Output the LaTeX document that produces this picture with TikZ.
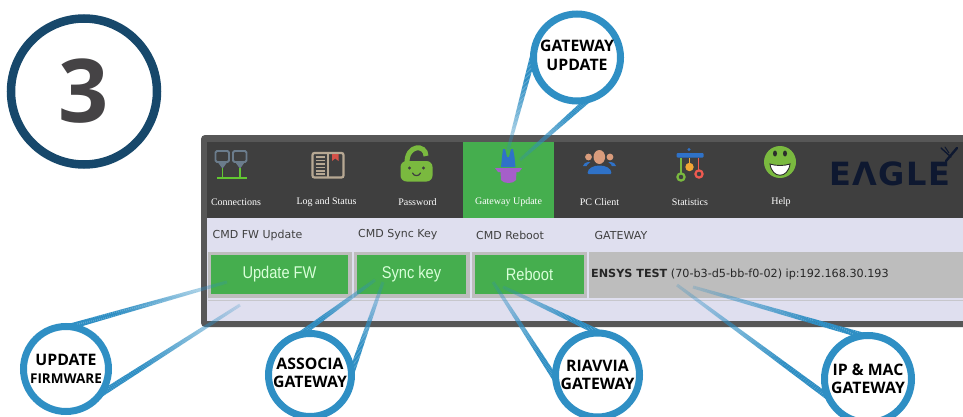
\documentclass[tikz,border=0pt]{standalone}
\usepackage{fontspec}
\setmainfont{Open Sans}
\newfontfamily\uifont{DejaVu Sans}
\newfontfamily\btnfont[FakeStretch=0.86]{Liberation Sans}
\newfontfamily\menufont{Liberation Serif}
\newfontfamily\logofont[LetterSpace=4.5]{DejaVu Sans}
\usetikzlibrary{calc}
\pgfdeclarelayer{panel}
\pgfdeclarelayer{links}
\pgfsetlayers{panel,links,main}
\definecolor{linkblue}{HTML}{2F8FC4}
\definecolor{navyring}{HTML}{17486B}
\definecolor{numgray}{HTML}{454345}
\definecolor{frame}{HTML}{575757}
\definecolor{header}{HTML}{3F3F3F}
\definecolor{tabgreen}{HTML}{45AE4E}
\definecolor{band}{HTML}{DFDFEF}
\definecolor{cellgray}{HTML}{BDBDBD}
\definecolor{uitext}{HTML}{404040}
\definecolor{limeg}{HTML}{7AB93F}
\definecolor{monit}{HTML}{6B7C8C}
\definecolor{booktan}{HTML}{B7A893}
\definecolor{iconblue}{HTML}{2F72C8}
\definecolor{iconpurple}{HTML}{A55FC9}
\definecolor{skin}{HTML}{D99C7C}
\definecolor{iconred}{HTML}{EE5A50}
\definecolor{iconorange}{HTML}{F2A635}
\definecolor{logodark}{HTML}{0E1830}
\tikzset{
  callout/.style={circle,draw=linkblue,fill=white,line width=7pt,minimum size=#1,inner sep=0pt,outer sep=0pt,align=center,font=\bfseries\fontsize{15.8}{18.5}\selectfont,text=black},
  menu/.style={font=\menufont\fontsize{10}{11}\selectfont,text=white,inner sep=0pt},
  cmd/.style={font=\uifont\fontsize{11}{13}\selectfont,text=uitext,inner sep=0pt},
  btn/.style={fill=tabgreen,text=white!85!green,font=\btnfont\fontsize{17}{18}\selectfont,inner sep=0pt,outer sep=0pt,anchor=north west},
}
\newcommand{\fadelink}[2]{%
  \begin{pgfonlayer}{links}%
  \foreach \lki in {0,...,79}{%
    \pgfmathsetmacro\lkA{\lki/80}%
    \pgfmathsetmacro\lkB{(\lki+1)/80}%
    \pgfmathsetmacro\lkO{min(1,1.3-1.1*\lkA)}%
    \pgfmathsetmacro\lkW{6-3*\lkA}%
    \draw[linkblue,line width=\lkW pt,opacity=\lkO] ($(#1)!\lkA!(#2)$) -- ($(#1)!\lkB!(#2)$);
  }%
  \end{pgfonlayer}%
}
\begin{document}
\begin{tikzpicture}[x=1pt,y=-1pt]
\useasboundingbox (0,0) rectangle (963,417);
\begin{pgfonlayer}{panel}
\fill[white] (0,0) rectangle (963,417);

% number badge
\node[circle,draw=navyring,line width=8.5pt,minimum size=146pt,inner sep=0pt,outer sep=0pt,
      font=\bfseries\fontsize{88}{88}\selectfont,text=numgray] (badge) at (84,91.5) {\raisebox{-1pt}{3}};

% panel
\begin{scope}
\clip (0,0) rectangle (963,417);
\fill[frame,rounded corners=4pt] (201,135) rectangle (975,327);
\end{scope}
\fill[band] (207,218) rectangle (963,321);
\fill[header] (207,142) rectangle (963,218);
\fill[tabgreen] (463,142) rectangle (554,218);
\fill[cellgray] (208,252) rectangle (352,298);
\fill[cellgray] (354,252) rectangle (470,298);
\fill[cellgray] (472,252) rectangle (587,298);
\fill[cellgray] (589,252) rectangle (963,298);
\draw[cellgray!70!band,line width=0.8pt] (208,300) -- (963,300);

% buttons
\node[btn,minimum width=137pt,minimum height=39pt] (bfw) at (211,255) {Update FW};
\node[btn,minimum width=109pt,minimum height=39pt] (bsk) at (357,255) {Sync key};
\node[btn,minimum width=109pt,minimum height=39pt] (brb) at (475,255) {Reboot};

% column captions
\node[cmd,anchor=west] (c1) at (212.5,235) {CMD FW Update};
\node[cmd,anchor=west] (c2) at (358,235) {CMD Sync Key};
\node[cmd,anchor=west] (c3) at (476,235) {CMD Reboot};
\node[cmd,anchor=west] (c4) at (594.5,235) {GATEWAY};
\node[cmd,anchor=west,text=black!85,font=\uifont\fontsize{11.2}{13}\selectfont] (gwtxt) at (591,274) {\textbf{ENSYS TEST} (70-b3-d5-bb-f0-02) ip:192.168.30.193};

% menu labels
\node[menu] (m1) at (236,202) {Connections};
\node[menu] (m2) at (326.5,202) {Log and Status};
\node[menu] (m3) at (417.5,202) {Password};
\node[menu] (m4) at (508.5,202) {Gateway Update};
\node[menu] (m5) at (599.5,202) {PC Client};
\node[menu] (m6) at (690,202) {Statistics};
\node[menu] (m7) at (781,202) {Help};

% Connections icon
\draw[monit,line width=1.9pt,rounded corners=1.5pt] (215.5,151) rectangle (229,162);
\draw[monit,line width=1.9pt,rounded corners=1.5pt] (233,151) rectangle (246.5,162);
\fill[monit] (218,162.5) -- (227,162.5) -- (223,168) -- (222,168) -- cycle;
\fill[monit] (235.5,162.5) -- (244.5,162.5) -- (240.5,168) -- (239.5,168) -- cycle;
\draw[limeg!80!green,line width=1.5pt] (222.5,168) -- (222.5,177) (240,168) -- (240,177);
\draw[limeg!80!green,line width=2.8pt] (217,178) -- (247,178);

% Log and Status icon
\draw[booktan,line width=2.2pt,rounded corners=2pt] (312.5,153) rectangle (343.5,177.5);
\draw[booktan,line width=1.8pt] (328,153) -- (328,177.5);
\foreach \ly in {157,160.5,164,167.5,171,174}{\draw[booktan,line width=1.1pt] (316,\ly) -- (325,\ly);}
\fill[iconred!90!black] (332,154) -- (338.5,154) -- (338.5,161) -- (335.2,158.5) -- (332,161) -- cycle;

% Password icon
\draw[limeg,line width=5pt] (407,164) .. controls (406,144) and (426,144) .. (426,156);
\fill[limeg,rounded corners=6pt] (400.5,161) rectangle (432.5,181.5);
\fill[header] (409.5,168) circle (1.7pt) (423.5,168) circle (1.7pt);
\draw[header,line width=1.2pt,line cap=round] (412.5,173) .. controls (414,176.5) and (419,176.5) .. (420.5,173);

% Gateway Update icon
\fill[iconblue] (501,167) -- (502,157) -- (503,149) -- (505,149) -- (507,157) -- (509,157) -- (511,149) -- (513,149) -- (514.5,157) -- (515.5,167) -- cycle;
\fill[iconpurple] (495,168) -- (522,168) -- (519,172) -- (516.5,172) -- (516,180) .. controls (514,184) and (503,184) .. (501,180) -- (500.5,172) -- (498,172) -- cycle;

% PC Client icon
\fill[skin] (588.5,157) circle (3.4pt) (610,157) circle (3.4pt);
\fill[iconblue] (583,166) .. controls (584,161) and (592,161) .. (594,164) -- (594,166) -- cycle;
\fill[iconblue] (605,164) .. controls (607,161) and (615,161) .. (616,166) -- (605,166) -- cycle;
\fill[header] (599.3,168) ellipse (13pt and 8pt);
\fill[skin] (599.3,157) ellipse (5.8pt and 7pt);
\fill[iconblue,rounded corners=1pt] (587.5,174) .. controls (588,163) and (611,163) .. (611.5,174) -- cycle;

% Statistics icon
\fill[iconblue,rounded corners=1pt] (676.5,153) rectangle (703.5,157.5);
\fill[iconblue] (689,149.5) circle (1.6pt);
\draw[limeg,line width=1.6pt] (681,158) -- (681,173);
\draw[limeg,line width=2.2pt] (681,177) circle (3.6pt);
\draw[iconorange,line width=1.2pt] (689.5,158) -- (689.5,163);
\fill[iconorange] (689.5,167) circle (4.2pt);
\draw[iconred,line width=1.6pt] (698.5,158) -- (698.5,170);
\draw[iconred,line width=2.2pt] (699,174) circle (3.6pt);

% Help icon
\fill[limeg] (780,162) circle (16pt);
\fill[header!70!black] (775,153.5) ellipse (2pt and 3pt) (785,153.5) ellipse (2pt and 3pt);
\fill[white,draw=header!70!black,line width=0.9pt] (770,164) .. controls (772,179) and (788,179) .. (790,164) .. controls (784,166) and (776,166) .. (770,164) -- cycle;

% Eagle logo
\node[anchor=west,inner sep=0pt,text=logodark,font=\logofont\bfseries\fontsize{32}{32}\selectfont] (logo) at (829,174) {EΛGLE};
\draw[logodark,line width=2.4pt,line cap=round] (946,161) -- (957,148);
\draw[logodark,line width=1.4pt,line cap=round] (941,148) -- (951,157);
\draw[logodark,line width=1pt,line cap=round] (945,147) -- (949,153);
\end{pgfonlayer}

% callouts
\node[callout=87pt] (gw) at (577,57.5) {\raisebox{-2.5pt}{\begin{tabular}{@{}c@{}}GATEWAY\\UPDATE\end{tabular}}};
\node[callout=85pt] (fw) at (66,369) {UPDATE\\[-1pt]{\fontsize{13.5}{16}\selectfont FIRMWARE}};
\node[callout=83pt] (as) at (310,375) {\raisebox{-2.5pt}{\begin{tabular}{@{}c@{}}ASSOCIA\\GATEWAY\end{tabular}}};
\node[callout=84pt] (ri) at (597.5,375) {RIAVVIA\\GATEWAY};
\node[callout=87pt] (ip) at (868,379) {IP \& MAC\\GATEWAY};

\coordinate (gwA) at (508,150);
\coordinate (gwB) at (520,160);
\coordinate (fwA) at (227,282);
\coordinate (fwB) at (240,305);
\coordinate (asA) at (375,280);
\coordinate (asB) at (383,282);
\coordinate (riA) at (503,287);
\coordinate (riB) at (493,282);
\coordinate (ipA) at (693,287);
\coordinate (ipB) at (677,285);

\fadelink{gw.175}{gwA}
\fadelink{gw.-75}{gwB}
\fadelink{fw.85}{fwA}
\fadelink{fw.-37}{fwB}
\fadelink{as.104}{asA}
\fadelink{as.3}{asB}
\fadelink{ri.87}{riA}
\fadelink{ri.186}{riB}
\fadelink{ip.96}{ipA}
\fadelink{ip.205}{ipB}
\end{tikzpicture}
\end{document}
